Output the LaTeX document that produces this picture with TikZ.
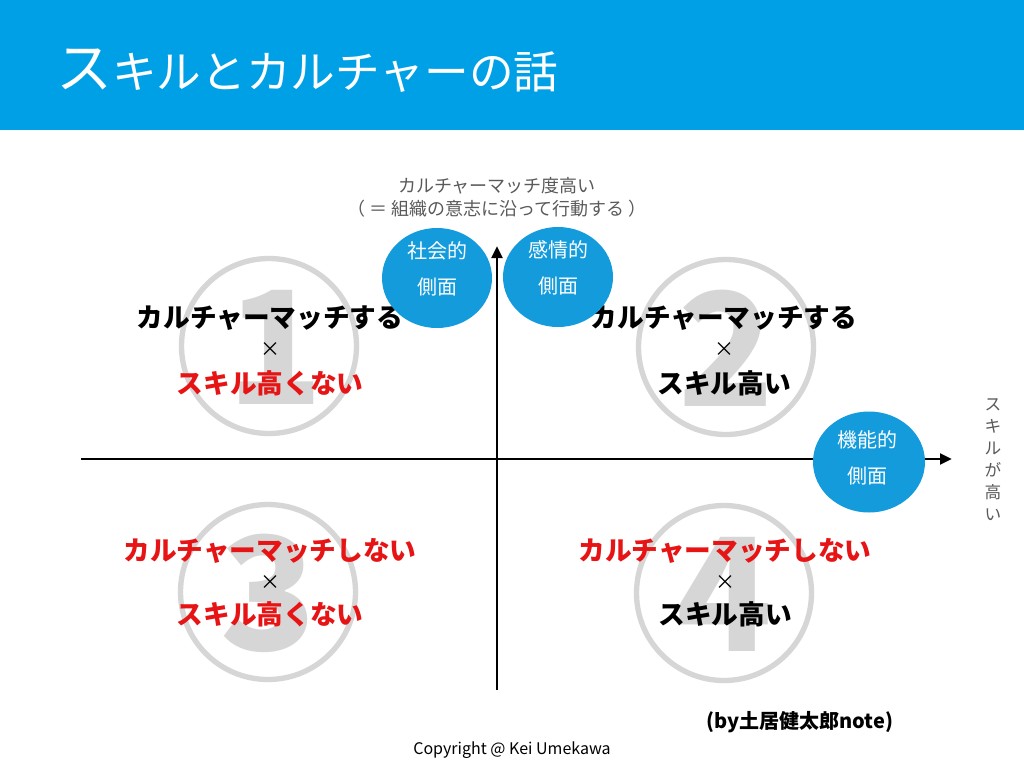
\documentclass[tikz,border=0pt]{standalone}
\usepackage{fontspec}
\setmainfont{Noto Sans CJK JP}
\newfontfamily\jp{Noto Sans CJK JP}
\usetikzlibrary{arrows.meta,shapes.geometric}
\definecolor{band}{RGB}{0,160,230}
\definecolor{bubble}{RGB}{20,155,220}
\definecolor{ring}{RGB}{214,214,214}
\definecolor{lbl}{RGB}{90,90,90}
\definecolor{redt}{RGB}{230,20,20}
\begin{document}
\begin{tikzpicture}[x=0.75pt,y=-0.75pt,
  bubble/.style={ellipse,fill=bubble,minimum width=110pt*0.75,minimum height=100pt*0.75,inner sep=0pt},
  bubbletxt/.style={text=white,inner sep=0pt,align=center,font=\jp\fontsize{15pt}{27pt}\selectfont},
  ringc/.style={circle,draw=ring,line width=4pt,minimum size=175pt*0.75,inner sep=0pt},
  bignum/.style={text=ring,font=\jp\bfseries\fontsize{118pt}{118pt}\selectfont,inner sep=0pt},
  qtxt/.style={font=\jp\bfseries\fontsize{20pt}{22pt}\selectfont,inner sep=0pt},
  times/.style={font=\jp\fontsize{15pt}{18pt}\selectfont,inner sep=0pt},
  axis/.style={line width=2.2pt,-{Triangle[length=9pt,width=8pt]}}
]
\useasboundingbox (0,0) rectangle (1024,768);
\fill[white] (0,0) rectangle (1024,768);
\fill[band] (0,0) rectangle (1024,130);
\node[anchor=base west,text=white,inner sep=0pt] (title) at (56,88) {\jp{\fontsize{42pt}{42pt}\selectfont ス}{\fontsize{33.5pt}{34pt}\selectfont キルとカルチャーの話}};

% rings and numbers
\node[ringc] (r1) at (269,346) {};
\node[bignum] (n1) at (275,347) {1};
\node[ringc] (r2) at (726,347) {};
\node[bignum] (n2) at (726,348) {2};
\node[ringc] (r3) at (268,592) {};
\node[bignum] (n3) at (268,593) {3};
\node[ringc] (r4) at (724,593) {};
\node[bignum] (n4) at (724,594) {4};

% axes
\coordinate (xs) at (81,459);
\coordinate (xe) at (952,459);
\coordinate (ys) at (497,690);
\coordinate (ye) at (497,246);
\draw[axis] (xs) -- (xe);
\draw[axis] (ys) -- (ye);

% axis labels
\node[text=lbl,align=center,font=\jp\fontsize{13.5pt}{17pt}\selectfont] (ylab) at (497,197) {カルチャーマッチ度高い\\（ ＝ 組織の意志に沿って行動する ）};
\node[text=lbl,align=center,font=\jp\fontsize{12.5pt}{16.5pt}\selectfont] (xlab) at (993,460) {ス\\キ\\ル\\が\\高\\い};

% quadrant texts
\node[qtxt] (q1a) at (270,318) {カルチャーマッチする};
\node[times] (q1b) at (270,350) {×};
\node[qtxt,text=redt] (q1c) at (270,383) {スキル高くない};

\node[qtxt] (q2a) at (724,318) {カルチャーマッチする};
\node[times] (q2b) at (724,350) {×};
\node[qtxt] (q2c) at (724,383) {スキル高い};

\node[qtxt,text=redt] (q3a) at (270,551) {カルチャーマッチしない};
\node[times] (q3b) at (270,583) {×};
\node[qtxt,text=redt] (q3c) at (270,614) {スキル高くない};

\node[qtxt,text=redt] (q4a) at (725,551) {カルチャーマッチしない};
\node[times] (q4b) at (725,583) {×};
\node[qtxt] (q4c) at (725,614) {スキル高い};

% bubbles
\node[bubble] (b1) at (437,278) {};
\node[bubbletxt] (t1) at (437,269) {社会的\\側面};
\node[bubble] (b2) at (558,277) {};
\node[bubbletxt] (t2) at (558,268) {感情的\\側面};
\node[bubble,minimum width=112pt*0.75,minimum height=101pt*0.75] (b3) at (869,462) {};
\node[bubbletxt] (t3) at (867,458) {機能的\\側面};

% credits
\node[font=\jp\bfseries\fontsize{15pt}{18pt}\selectfont] (by) at (800,722) {(by土居健太郎note)};
\node[font=\jp\fontsize{12pt}{14pt}\selectfont] (copy) at (512,750) {Copyright @ Kei Umekawa};
\end{tikzpicture}
\end{document}
